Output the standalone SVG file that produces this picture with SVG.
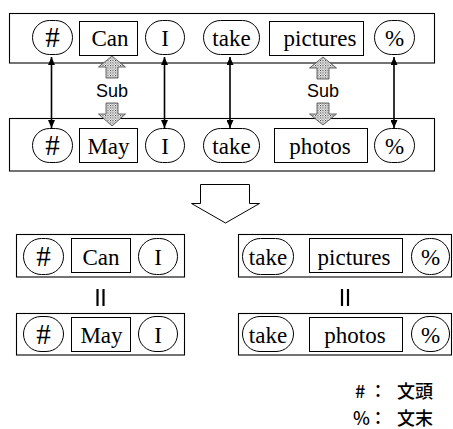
<svg xmlns="http://www.w3.org/2000/svg" width="453" height="429" viewBox="0 0 453 429">
  <style>
    .frame { fill: #fff; stroke: #000; stroke-width: 1.1; }
    .tok { fill: #fff; stroke: #000; stroke-width: 1; }
    .w { font-family: 'Liberation Serif', 'Times New Roman', 'DejaVu Serif', serif; font-size: 23px; text-anchor: middle; fill: #000; }
    .w.h { font-size: 29px; }
    .sub { font-family: 'Liberation Sans', Arial, sans-serif; font-size: 18px; text-anchor: middle; fill: #000; }
    .link { stroke: #000; stroke-width: 1.6; fill: none; marker-start: url(#ah); marker-end: url(#ah); }
    .blk { fill: url(#dots); stroke: #444; stroke-width: 0.8; }
    .eq { stroke: #000; stroke-width: 2.2; }
    .legend { font-family: 'Noto Sans CJK JP', 'Noto Sans', sans-serif; font-size: 18px; font-weight: 500; fill: #000; }
  </style>
  <defs>
    <marker id="ah" viewBox="0 0 8 7" refX="8" refY="3.5" markerWidth="8" markerHeight="7" markerUnits="userSpaceOnUse" orient="auto-start-reverse">
      <path d="M0,0 L8,3.5 L0,7 Z" fill="#000"/>
    </marker>
    <pattern id="dots" width="2.5" height="2.5" patternUnits="userSpaceOnUse">
      <rect width="2.5" height="2.5" fill="#fff"/>
      <rect x="0" y="0" width="1" height="1" fill="#222"/>
      <rect x="1.25" y="1.25" width="1" height="1" fill="#555"/>
    </pattern>
  </defs>

  <!-- upper sentence pair: outer frames -->
  <rect id="rowCan" class="frame" x="9.5" y="13.5" width="425" height="49.5"/>
  <rect id="rowMay" class="frame" x="9.5" y="118.5" width="425" height="52.5"/>

  <!-- tokens of the first sentence -->
  <g id="t1-hash"><rect class="tok" x="32.5" y="20.5" width="40" height="34" rx="17"/><text class="w h" x="52.5" y="47">#</text></g>
  <g id="t1-can"><rect class="tok" x="79.5" y="21.5" width="58" height="34"/><text class="w" x="110" y="46">Can</text></g>
  <g id="t1-i"><rect class="tok" x="145.5" y="20.5" width="39" height="34" rx="17"/><text class="w" x="165" y="46">I</text></g>
  <g id="t1-take"><rect class="tok" x="203.5" y="20.5" width="56" height="34" rx="17"/><text class="w" x="231.5" y="46">take</text></g>
  <g id="t1-pictures"><rect class="tok" x="269.5" y="21.5" width="94" height="34"/><text class="w" x="320" y="46">pictures</text></g>
  <g id="t1-pct"><rect class="tok" x="374.5" y="20.5" width="40" height="34" rx="17"/><text class="w" x="394.5" y="46">%</text></g>

  <!-- tokens of the second sentence -->
  <g id="t2-hash"><rect class="tok" x="32.5" y="128.5" width="40" height="34" rx="17"/><text class="w h" x="52.5" y="154.5">#</text></g>
  <g id="t2-may"><rect class="tok" x="79.5" y="128.5" width="58" height="34"/><text class="w" x="108.5" y="153.5">May</text></g>
  <g id="t2-i"><rect class="tok" x="145.5" y="128.5" width="39" height="34" rx="17"/><text class="w" x="165" y="153.5">I</text></g>
  <g id="t2-take"><rect class="tok" x="203.5" y="128.5" width="56" height="34" rx="17"/><text class="w" x="231.5" y="153.5">take</text></g>
  <g id="t2-photos"><rect class="tok" x="274.5" y="128.5" width="93" height="34"/><text class="w" x="320" y="153.5">photos</text></g>
  <g id="t2-pct"><rect class="tok" x="374.5" y="128.5" width="40" height="34" rx="17"/><text class="w" x="394.5" y="153.5">%</text></g>

  <!-- alignment links and substitution arrows -->
  <g id="connectors">
    <line class="link" x1="51.5" y1="57" x2="51.5" y2="128"/>
    <line class="link" x1="164.5" y1="57" x2="164.5" y2="128"/>
    <line class="link" x1="230" y1="57" x2="230" y2="128"/>
    <line class="link" x1="394" y1="57" x2="394" y2="128"/>

    <path class="blk" d="M112,56 L125.5,67 L118,67 L118,78 L106,78 L106,67 L98.5,67 Z"/>
    <path class="blk" d="M106,103 L118,103 L118,114 L125.5,114 L112,126 L98.5,114 L106,114 Z"/>
    <text class="sub" x="112" y="97">Sub</text>

    <path class="blk" d="M323,57 L336.5,68 L329,68 L329,79 L317,79 L317,68 L309.5,68 Z"/>
    <path class="blk" d="M317,103 L329,103 L329,114 L336.5,114 L323,125 L309.5,114 L317,114 Z"/>
    <text class="sub" x="323" y="97">Sub</text>

    <!-- split step -->
    <path d="M200.5,184.5 L249.5,184.5 L249.5,203.5 L259.5,203.5 L225.5,223 L191.5,203.5 L200.5,203.5 Z" fill="#fff" stroke="#000" stroke-width="1"/>

    <!-- equivalence marks -->
    <line class="eq" x1="97.5" y1="289" x2="97.5" y2="306"/>
    <line class="eq" x1="103.5" y1="289" x2="103.5" y2="306"/>
    <line class="eq" x1="342" y1="289" x2="342" y2="306"/>
    <line class="eq" x1="348" y1="289" x2="348" y2="306"/>
  </g>

  <!-- split fragments: left pair -->
  <rect id="fragL1" class="frame" x="16.5" y="234.5" width="168" height="42.5"/>
  <g id="l1-hash"><rect class="tok" x="23.5" y="238.5" width="40" height="36" rx="18"/><text class="w h" x="43.5" y="266">#</text></g>
  <g id="l1-can"><rect class="tok" x="71.5" y="238.5" width="59" height="34"/><text class="w" x="101" y="264.5">Can</text></g>
  <g id="l1-i"><rect class="tok" x="138.5" y="238.5" width="39" height="36" rx="18"/><text class="w" x="158" y="264.5">I</text></g>

  <rect id="fragL2" class="frame" x="16.5" y="313.5" width="168" height="41.5"/>
  <g id="l2-hash"><rect class="tok" x="23.5" y="316.5" width="40" height="35" rx="17.5"/><text class="w h" x="43.5" y="344">#</text></g>
  <g id="l2-may"><rect class="tok" x="71.5" y="317.5" width="59" height="34"/><text class="w" x="101.5" y="342.5">May</text></g>
  <g id="l2-i"><rect class="tok" x="138.5" y="316.5" width="39" height="35" rx="17.5"/><text class="w" x="158" y="342.5">I</text></g>

  <!-- split fragments: right pair -->
  <rect id="fragR1" class="frame" x="238.5" y="234.5" width="213" height="42.5"/>
  <g id="r1-take"><rect class="tok" x="242.5" y="238.5" width="51" height="36" rx="18"/><text class="w" x="268" y="264.5">take</text></g>
  <g id="r1-pictures"><rect class="tok" x="309.5" y="238.5" width="93" height="34"/><text class="w" x="354" y="264.5">pictures</text></g>
  <g id="r1-pct"><rect class="tok" x="411.5" y="238.5" width="38" height="36" rx="18"/><text class="w" x="430.5" y="264.5">%</text></g>

  <rect id="fragR2" class="frame" x="238.5" y="313.5" width="213" height="41.5"/>
  <g id="r2-take"><rect class="tok" x="242.5" y="316.5" width="51" height="35" rx="17.5"/><text class="w" x="268" y="342.5">take</text></g>
  <g id="r2-photos"><rect class="tok" x="309.5" y="317.5" width="93" height="34"/><text class="w" x="355" y="342.5">photos</text></g>
  <g id="r2-pct"><rect class="tok" x="411.5" y="316.5" width="38" height="35" rx="17.5"/><text class="w" x="430.5" y="342.5">%</text></g>

  <!-- legend -->
  <g id="legend" class="legend">
    <text y="398"><tspan x="355">#</tspan><tspan x="369">：</tspan><tspan x="397">文頭</tspan></text>
    <text y="425"><tspan x="353">%</tspan><tspan x="369">：</tspan><tspan x="397">文末</tspan></text>
  </g>
</svg>
